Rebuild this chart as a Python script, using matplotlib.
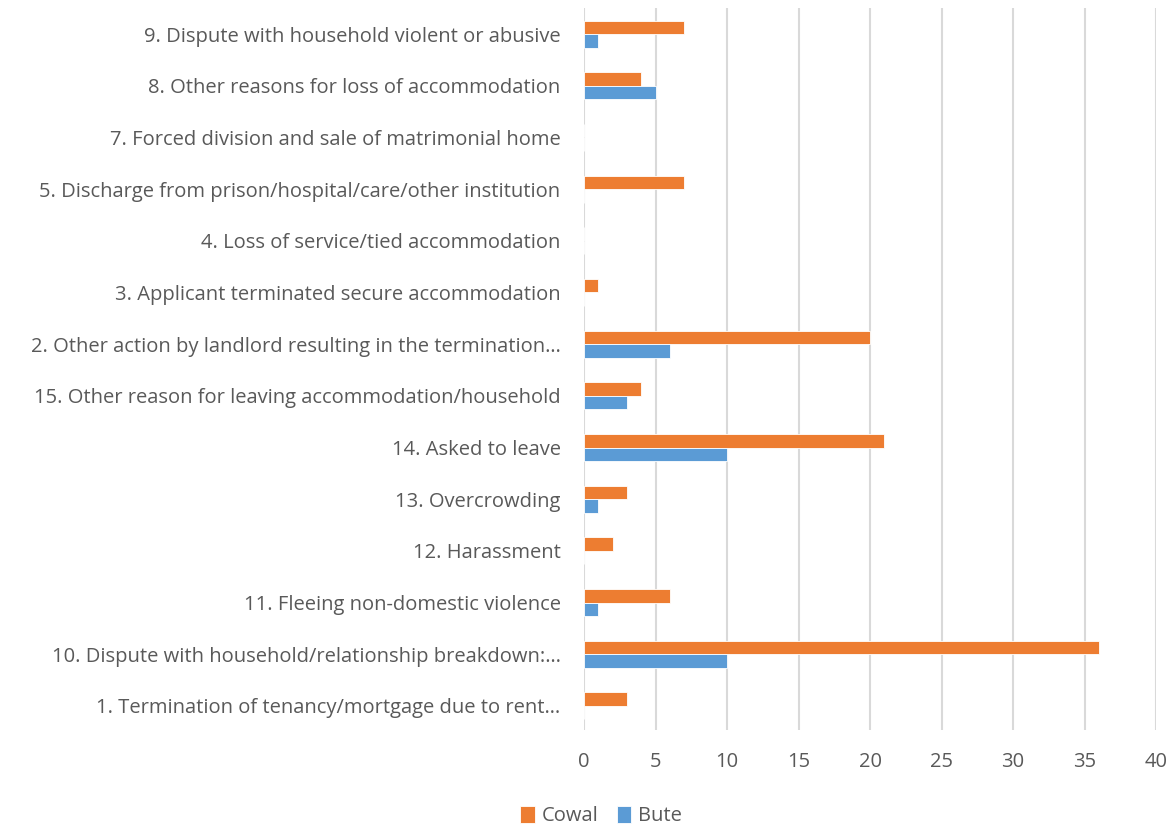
import matplotlib
matplotlib.use("Agg")
import matplotlib.pyplot as plt
import numpy as np

categories = [
    "1. Termination of tenancy/mortgage due to rent…",
    "10. Dispute with household/relationship breakdown:…",
    "11. Fleeing non-domestic violence",
    "12. Harassment",
    "13. Overcrowding",
    "14. Asked to leave",
    "15. Other reason for leaving accommodation/household",
    "2. Other action by landlord resulting in the termination…",
    "3. Applicant terminated secure accommodation",
    "4. Loss of service/tied accommodation",
    "5. Discharge from prison/hospital/care/other institution",
    "7. Forced division and sale of matrimonial home",
    "8. Other reasons for loss of accommodation",
    "9. Dispute with household violent or abusive",
]
cowal = [3, 36, 6, 2, 3, 21, 4, 20, 1, 0, 7, 0, 4, 7]
bute = [0, 10, 1, 0, 1, 10, 3, 6, 0, 0, 0, 0, 5, 1]

ORANGE = "#ED7D31"
BLUE = "#5B9BD5"
TEXT = "#595959"
GRID = "#D9D9D9"

plt.rcParams['font.family'] = ['Open Sans', 'DejaVu Sans']
FS = 14.5

fig = plt.figure(figsize=(11.73, 8.26), dpi=100)
ax = fig.add_axes([0.498, 0.116, 0.4875, 0.874])

y = np.arange(len(categories))
h = 0.26
ax.barh(y + h / 2, cowal, height=h, color=ORANGE, edgecolor="white", linewidth=0.6, label="Cowal", zorder=3)
ax.barh(y - h / 2, bute, height=h, color=BLUE, edgecolor="white", linewidth=0.6, label="Bute", zorder=3)

ax.set_xlim(0, 40)
ax.set_ylim(-0.47, len(categories) - 0.5)
ax.set_xticks(range(0, 41, 5))
ax.set_yticks(y)
ax.set_yticklabels(categories)
ax.grid(axis="x", color=GRID, linewidth=1.5, zorder=0)
for s in ax.spines.values():
    s.set_visible(False)
ax.tick_params(axis="both", length=0, colors=TEXT, labelsize=FS)
ax.tick_params(axis="y", pad=17)
ax.tick_params(axis="x", pad=16)

handles, labels = ax.get_legend_handles_labels()
fig.legend(handles, labels, loc="center", bbox_to_anchor=(601 / 1173, 1 - 816 / 826), ncol=2,
           frameon=False, fontsize=FS, labelcolor=TEXT, handlelength=0.7, handleheight=0.95,
           handletextpad=0.35, columnspacing=0.9, borderpad=0)

fig.savefig("out.png", dpi=100, facecolor="white")
